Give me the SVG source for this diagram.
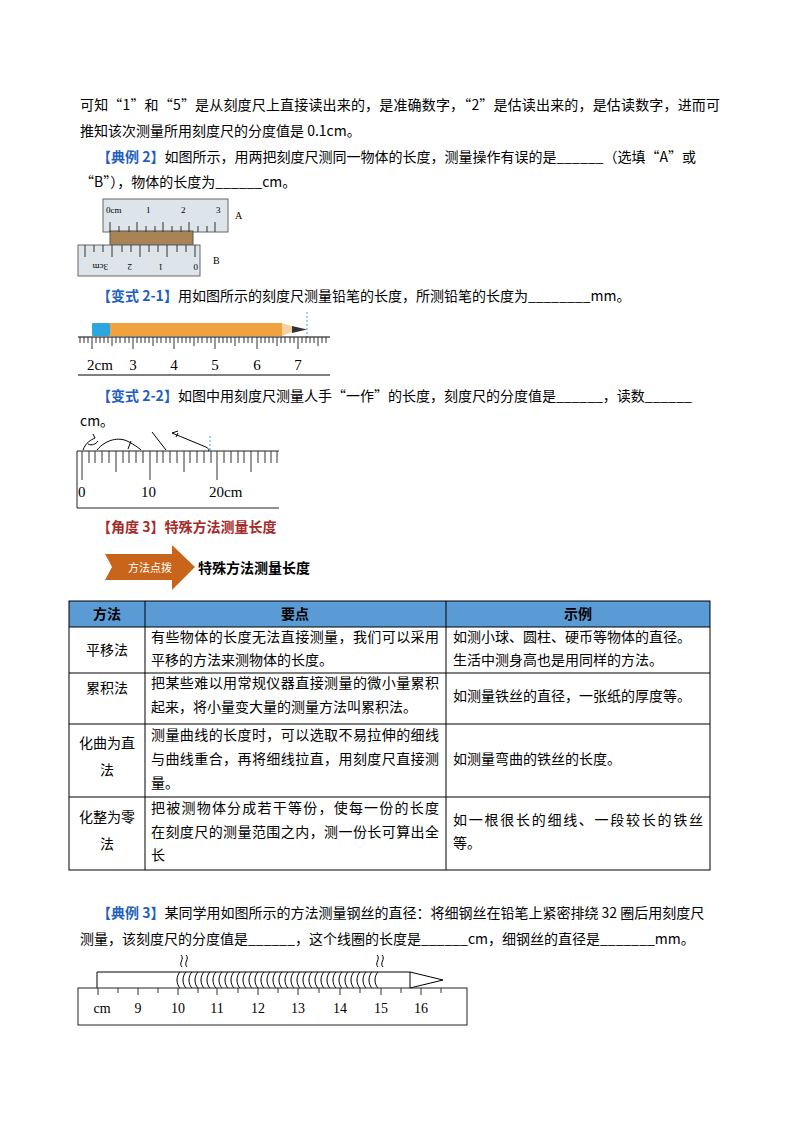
<svg xmlns="http://www.w3.org/2000/svg" width="800" height="1132" viewBox="0 0 800 1132">
<style>
text{font-family:"Noto Sans CJK SC","Liberation Serif",sans-serif;font-size:14px;fill:#000}
.n{font-family:"Liberation Serif",serif}
.b{fill:#1f5fbf;font-weight:bold}
.c{text-anchor:middle}
.h{font-weight:bold;text-anchor:middle}
.ln{stroke:#000;stroke-width:1;fill:none}
.tk{stroke:#333;stroke-width:1}
</style>
<rect width="800" height="1132" fill="#fff"/>
<g id="text">
<text x="80" y="110" textLength="640">可知“1”和“5”是从刻度尺上直接读出来的，是准确数字，“2”是估读出来的，是估读数字，进而可</text>
<text x="80" y="136">推知该次测量所用刻度尺的分度值是 0.1cm。</text>
<text x="97" y="162"><tspan class="b">【典例 2】</tspan>如图所示，用两把刻度尺测同一物体的长度，测量操作有误的是______（选填“A”或</text>
<text x="80" y="187">“B”），物体的长度为______cm。</text>
<text x="97" y="301"><tspan class="b">【变式 2-1】</tspan>用如图所示的刻度尺测量铅笔的长度，所测铅笔的长度为________mm。</text>
<text x="97" y="401"><tspan class="b">【变式 2-2】</tspan>如图中用刻度尺测量人手“一作”的长度，刻度尺的分度值是______，读数______</text>
<text x="80" y="426">cm。</text>
<text x="97" y="532" style="fill:#a52a2a;font-weight:bold">【角度 3】特殊方法测量长度</text>
<text x="97" y="918"><tspan class="b">【典例 3】</tspan>某同学用如图所示的方法测量钢丝的直径：将细钢丝在铅笔上紧密排绕 32 圈后用刻度尺</text>
<text x="80" y="944">测量，该刻度尺的分度值是______，这个线圈的长度是______cm，细钢丝的直径是_______mm。</text>
</g>
<g id="fig-ab">
<rect x="103" y="199" width="125" height="33" fill="#dde5ea" stroke="#666"/>
<rect x="110" y="231" width="83" height="14" fill="#a88355" stroke="#555"/>
<rect x="78" y="245" width="122" height="31" fill="#dde5ea" stroke="#666"/>
<g class="tk">
<path d="M110 232V222M119 232V226M129 232V226M137 232V222M146 232V226M155 232V226M163 232V222M172 232V226M181 232V226M189 232V222M198 232V226M207 232V226M215 232V222"/>
<path d="M195 245V257M186 245V252M177 245V252M167 245V257M158 245V252M149 245V252M140 245V257M131 245V252M122 245V252M112 245V257M103 245V252M94 245V252M85 245V257"/>
</g>
<g class="n">
<text x="106" y="213" class="n" style="font-size:9px">0cm</text>
<text x="146" y="213" class="n" style="font-size:9px">1</text>
<text x="181" y="213" class="n" style="font-size:9px">2</text>
<text x="216" y="213" class="n" style="font-size:9px">3</text>
<text x="235" y="219" class="n" style="font-size:10px">A</text>
<text x="213" y="264" class="n" style="font-size:10px">B</text>
</g>
<g transform="rotate(180 140 268)">
<text class="n" style="font-size:9px" x="82" y="272">0</text><text class="n" style="font-size:9px" x="117" y="272">1</text><text class="n" style="font-size:9px" x="148" y="272">2</text><text class="n" style="font-size:9px" x="172" y="272">3cm</text>
</g>
</g>
<g id="fig-pencil">
<rect x="92" y="323" width="190" height="13" fill="#f0a33c"/>
<rect x="92" y="323" width="18" height="13" rx="2" fill="#2aa7e0"/>
<polygon points="282,323 300,329 282,336" fill="#f3d2a0"/>
<polygon points="292,326 307,329.5 292,333" fill="#333"/>
<line x1="307" y1="312" x2="307" y2="340" stroke="#2aa7e0" stroke-dasharray="2,2"/>
<line x1="78" y1="337" x2="330" y2="337" class="ln"/>
<line x1="78" y1="375" x2="330" y2="375" class="ln"/>
<path class="tk" d="M80 337v6M84 337v6M88 337v6M92 337v12M96 337v6M100 337v6M104 337v6M108 337v6M112 337v9M116 337v6M120 337v6M125 337v6M129 337v6M133 337v12M137 337v6M141 337v6M145 337v6M149 337v6M153 337v9M157 337v6M161 337v6M166 337v6M170 337v6M174 337v12M178 337v6M182 337v6M186 337v6M190 337v6M194 337v9M198 337v6M202 337v6M207 337v6M211 337v6M215 337v12M219 337v6M223 337v6M227 337v6M231 337v6M235 337v9M239 337v6M244 337v6M248 337v6M252 337v6M257 337v12M261 337v6M265 337v6M269 337v6M273 337v6M277 337v9M281 337v6M285 337v6M290 337v6M294 337v6M298 337v12M302 337v6M306 337v6M310 337v6M314 337v6M318 337v9M322 337v6M326 337v6"/>
<g class="c">
<text class="n" style="font-size:15px" x="100" y="370">2cm</text><text class="n" style="font-size:15px" x="133" y="370">3</text><text class="n" style="font-size:15px" x="174" y="370">4</text><text class="n" style="font-size:15px" x="215" y="370">5</text><text class="n" style="font-size:15px" x="257" y="370">6</text><text class="n" style="font-size:15px" x="298" y="370">7</text>
</g>
</g>
<g id="fig-hand">
<line x1="77" y1="451" x2="279" y2="451" stroke="#222"/>
<line x1="77" y1="508" x2="279" y2="508" stroke="#222"/>
<line x1="77" y1="451" x2="77" y2="508" stroke="#222"/>
<path class="tk" d="M82 451v29M89 451v12M95 451v12M102 451v12M109 451v12M116 451v21M123 451v12M129 451v12M136 451v12M143 451v12M150 451v29M157 451v12M163 451v12M170 451v12M177 451v12M184 451v21M190 451v12M197 451v12M204 451v12M211 451v12M217 451v29M224 451v12M231 451v12M238 451v12M244 451v12M251 451v21M258 451v12M265 451v12M271 451v12M277 451v12"/>
<path class="ln" d="M83 450c3-8 8-10 12-12M95 438l-2 -4M88 444c4 2 8 0 10-3M97 450c8-10 22-14 32-8 4 2 10 6 12 8M131 441l-3 8M152 432l14 18M172 433c10 4 24 10 34 14c3 2 4 3 2 4M172 433l6-2M178 433l-2 4"/>
<line x1="210" y1="436" x2="210" y2="451" stroke="#2aa7e0" stroke-dasharray="2,2"/>
<text class="n" style="font-size:15px" x="78" y="497">0</text><text class="n" style="font-size:15px" x="141" y="497">10</text><text class="n" style="font-size:15px" x="209" y="497">20cm</text>
</g>
<g id="banner">
<polygon points="105,554 172,554 172,545 195,567 172,590 172,580 105,580 112,567" fill="#c8651b"/>
<text x="150" y="572" class="c" style="fill:#fff;font-size:11px">方法点拨</text>
<text x="198" y="573" style="font-weight:bold">特殊方法测量长度</text>
</g>
<g id="table">
<rect x="69" y="601" width="641" height="26" fill="#5b9bd5"/>
<g class="ln">
<rect x="69" y="601" width="641" height="269"/>
<path d="M69 627H710M69 673H710M69 724H710M69 797H710M145 601V870M446 601V870"/>
</g>
<text x="107" y="619" class="h">方法</text>
<text x="295" y="619" class="h">要点</text>
<text x="578" y="619" class="h">示例</text>
<text x="107" y="655" class="c">平移法</text>
<text x="151" y="642" textLength="288">有些物体的长度无法直接测量，我们可以采用</text>
<text x="151" y="665">平移的方法来测物体的长度。</text>
<text x="453" y="642">如测小球、圆柱、硬币等物体的直径。</text>
<text x="453" y="665">生活中测身高也是用同样的方法。</text>
<text x="107" y="693" class="c">累积法</text>
<text x="151" y="688" textLength="288">把某些难以用常规仪器直接测量的微小量累积</text>
<text x="151" y="712">起来，将小量变大量的测量方法叫累积法。</text>
<text x="453" y="701">如测量铁丝的直径，一张纸的厚度等。</text>
<text x="107" y="748" class="c">化曲为直</text>
<text x="107" y="775" class="c">法</text>
<text x="151" y="740" textLength="288">测量曲线的长度时，可以选取不易拉伸的细线</text>
<text x="151" y="764" textLength="288">与曲线重合，再将细线拉直，用刻度尺直接测</text>
<text x="151" y="788">量。</text>
<text x="453" y="764">如测量弯曲的铁丝的长度。</text>
<text x="107" y="822" class="c">化整为零</text>
<text x="107" y="849" class="c">法</text>
<text x="151" y="813" textLength="288">把被测物体分成若干等份，使每一份的长度</text>
<text x="151" y="837" textLength="288">在刻度尺的测量范围之内，测一份长可算出全</text>
<text x="151" y="860">长</text>
<text x="453" y="825" textLength="250">如一根很长的细线、一段较长的铁丝</text>
<text x="453" y="848">等。</text>
</g>
<g id="fig-coil">
<path class="ln" d="M97 988V972H410V988M410 972L443 980L410 988"/>
<path class="ln" d="M180 972c-4 4-4 12 0 16M186 972c-4 4-4 12 0 16M192 972c-4 4-4 12 0 16M198 972c-4 4-4 12 0 16M204 972c-4 4-4 12 0 16M210 972c-4 4-4 12 0 16M216 972c-4 4-4 12 0 16M222 972c-4 4-4 12 0 16M228 972c-4 4-4 12 0 16M234 972c-4 4-4 12 0 16M240 972c-4 4-4 12 0 16M246 972c-4 4-4 12 0 16M252 972c-4 4-4 12 0 16M258 972c-4 4-4 12 0 16M264 972c-4 4-4 12 0 16M270 972c-4 4-4 12 0 16M276 972c-4 4-4 12 0 16M282 972c-4 4-4 12 0 16M288 972c-4 4-4 12 0 16M294 972c-4 4-4 12 0 16M300 972c-4 4-4 12 0 16M306 972c-4 4-4 12 0 16M312 972c-4 4-4 12 0 16M318 972c-4 4-4 12 0 16M324 972c-4 4-4 12 0 16M330 972c-4 4-4 12 0 16M336 972c-4 4-4 12 0 16M342 972c-4 4-4 12 0 16M348 972c-4 4-4 12 0 16M354 972c-4 4-4 12 0 16M360 972c-4 4-4 12 0 16M366 972c-4 4-4 12 0 16M372 972c-4 4-4 12 0 16M378 972c-4 4-4 12 0 16"/>
<path class="ln" d="M181 955c4 4-3 8 1 12M186 955c4 4-3 8 1 12M377 955c4 4-3 8 1 12M382 955c4 4-3 8 1 12"/>
<rect x="78" y="988" width="389" height="37" fill="none" stroke="#222"/>
<path class="tk" d="M98 988v7M138 988v7M178 988v7M217 988v7M258 988v7M298 988v7M340 988v7M381 988v7M421 988v7M118 988v5M158 988v5M198 988v5M238 988v5M278 988v5M319 988v5M360 988v5M401 988v5M441 988v5"/>
<g class="c">
<text class="n" x="102" y="1013">cm</text><text class="n" x="138" y="1013">9</text><text class="n" x="178" y="1013">10</text><text class="n" x="217" y="1013">11</text><text class="n" x="258" y="1013">12</text><text class="n" x="298" y="1013">13</text><text class="n" x="340" y="1013">14</text><text class="n" x="381" y="1013">15</text><text class="n" x="421" y="1013">16</text>
</g>
</g>
</svg>
